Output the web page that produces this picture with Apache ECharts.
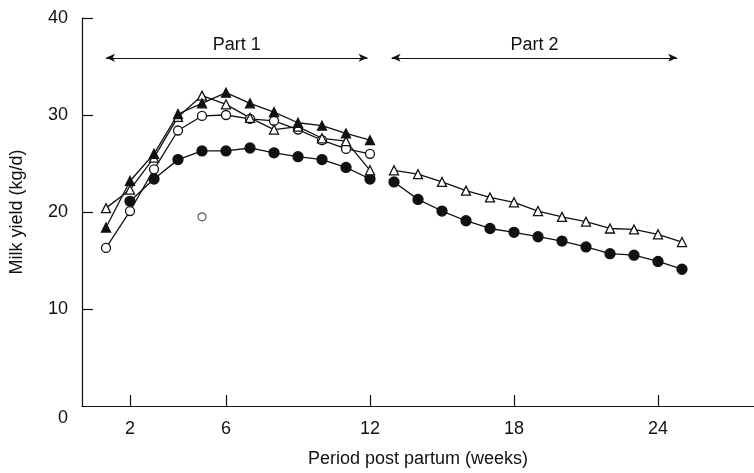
<!DOCTYPE html>
<html>
<head>
<meta charset="utf-8">
<script src="https://cdn.jsdelivr.net/npm/echarts@6/dist/echarts.min.js"></script>
<style>
html,body{margin:0;padding:0;background:#fff;}
#chart{width:754px;height:473px;}
</style>
</head>
<body>
<div id="chart"></div>
<script>
// ---- data ----
var weeksPart1 = [1,2,3,4,5,6,7,8,9,10,11,12];
var filledTriangle1 = [18.4, 23.2, 26.0, 30.1, 31.2, 32.3, 31.2, 30.3, 29.2, 28.9, 28.1, 27.4];
var openTriangle1   = [20.4, 22.3, 25.6, 29.8, 32.0, 31.1, 29.7, 28.5, 28.8, 27.6, 27.3, 24.3];
var openCircle1     = [16.3, 20.1, 24.4, 28.4, 29.9, 30.0, 29.6, 29.4, 28.5, 27.4, 26.5, 26.0];
var weeksFilledCircle1 = [2,3,4,5,6,7,8,9,10,11,12];
var filledCircle1   = [21.1, 23.4, 25.4, 26.3, 26.3, 26.6, 26.1, 25.7, 25.4, 24.6, 23.4];

var weeksPart2 = [13,14,15,16,17,18,19,20,21,22,23,24,25];
var openTriangle2 = [24.3, 23.9, 23.1, 22.2, 21.5, 21.0, 20.1, 19.5, 19.0, 18.3, 18.2, 17.7, 16.9];
var filledCircle2 = [23.1, 21.3, 20.1, 19.1, 18.3, 17.9, 17.45, 17.0, 16.4, 15.7, 15.55, 14.9, 14.1];

var strayMark = [[5, 19.5]];

var partNames = ['Part 1', 'Part 2'];
var partStart = [1.0, 12.9];
var partEnd = [11.9, 24.8];
var partLevel = 35.9;

var xTicks = [2, 6, 12, 18, 24];
var yTicks = [10, 20, 30, 40];
var yLabels = [0, 10, 20, 30, 40];

var xTitle = 'Period post partum (weeks)';
var yTitle = 'Milk yield (kg/d)';

// ---- build ----
function pairs(xs, ys){ return xs.map(function(x,i){ return [x, ys[i]]; }); }
var FONT = 'Liberation Sans, Arial, sans-serif';
var INK = '#111';

function lineSeries(xs, ys, symbol, filled, size){
  return {
    type: 'line',
    data: pairs(xs, ys),
    symbol: symbol,
    symbolSize: size,
    showAllSymbol: true,
    lineStyle: {color: INK, width: 1.3},
    itemStyle: {color: filled ? INK : '#fff', borderColor: INK, borderWidth: 1.3},
    emphasis: {disabled: true},
    animation: false,
    z: 3
  };
}

var markLineData = partNames.map(function(n, i){
  return [
    {coord: [partStart[i], partLevel], name: n},
    {coord: [partEnd[i], partLevel]}
  ];
});

var series = [
  lineSeries(weeksFilledCircle1, filledCircle1, 'circle', true, 10),
  lineSeries(weeksPart1, openCircle1, 'circle', false, 9),
  lineSeries(weeksPart1, openTriangle1, 'triangle', false, 9),
  lineSeries(weeksPart1, filledTriangle1, 'triangle', true, 9),
  lineSeries(weeksPart2, openTriangle2, 'triangle', false, 9),
  lineSeries(weeksPart2, filledCircle2, 'circle', true, 10),
  {
    type: 'scatter',
    data: strayMark,
    symbol: 'circle',
    symbolSize: 8,
    itemStyle: {color: '#fff', borderColor: '#333', borderWidth: 1.2},
    animation: false,
    silent: true
  },
  {
    type: 'line',
    data: [],
    animation: false,
    markLine: {
      silent: true,
      animation: false,
      symbol: ['arrow', 'arrow'],
      symbolSize: [6, 9],
      lineStyle: {color: INK, width: 1.2, type: 'solid'},
      label: {
        show: true,
        position: 'middle',
        formatter: '{b}',
        color: INK,
        fontSize: 18,
        fontFamily: FONT,
        distance: 4
      },
      data: markLineData
    }
  }
];

var chart = echarts.init(document.getElementById('chart'), null, {renderer: 'canvas'});
chart.setOption({
  backgroundColor: '#fff',
  animation: false,
  grid: {left: 80, right: -3, top: 18, bottom: 67, containLabel: false},
  xAxis: {
    type: 'value',
    min: 0,
    max: 28,
    name: xTitle,
    nameLocation: 'middle',
    nameGap: 44,
    nameTextStyle: {color: INK, fontSize: 18, fontFamily: FONT},
    axisLine: {show: true, lineStyle: {color: INK, width: 1.2}},
    axisTick: {show: true, inside: true, length: 11, customValues: xTicks, lineStyle: {color: INK, width: 1.2}},
    axisLabel: {show: true, customValues: xTicks, margin: 14, color: INK, fontSize: 18, fontFamily: FONT},
    splitLine: {show: false}
  },
  yAxis: {
    type: 'value',
    min: 0,
    max: 40,
    interval: 10,
    name: yTitle,
    nameLocation: 'middle',
    nameGap: 56,
    nameTextStyle: {color: INK, fontSize: 18, fontFamily: FONT},
    axisLine: {show: true, lineStyle: {color: INK, width: 1.2}},
    axisTick: {show: true, inside: true, length: 11, customValues: yTicks, lineStyle: {color: INK, width: 1.2}},
    axisLabel: {
      show: true,
      customValues: yLabels,
      margin: 14,
      color: INK,
      fontSize: 18,
      fontFamily: FONT,
      lineHeight: 24,
      formatter: function(v){ return v === 0 ? '\n0' : String(v); }
    },
    splitLine: {show: false}
  },
  series: series
});
</script>
</body>
</html>
